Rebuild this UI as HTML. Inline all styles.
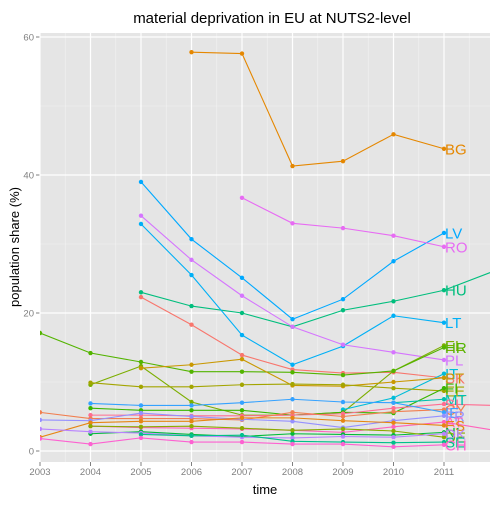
<!DOCTYPE html>
<html><head><meta charset="utf-8"><style>
body{margin:0;background:#fff;}
svg text{font-family:"Liberation Sans",sans-serif;}
</style></head><body>
<svg id="chart" width="504" height="504" xmlns="http://www.w3.org/2000/svg">
<defs><clipPath id="pc"><rect x="40" y="33" width="450" height="429"/></clipPath></defs>
<text x="272" y="23" font-size="15" text-anchor="middle">material deprivation in EU at NUTS2-level</text>
<text x="265" y="494" font-size="13" text-anchor="middle">time</text>
<text transform="translate(19,247) rotate(-90)" font-size="13" text-anchor="middle">population share (%)</text>
<g id="grid"></g><g id="series" clip-path="url(#pc)"></g><g id="labels"></g>
</svg>
<script>
const years=[2003,2004,2005,2006,2007,2008,2009,2010,2011,2012];
const yTicks=[0,20,40,60];
const xTicks=[2003,2004,2005,2006,2007,2008,2009,2010,2011];
const seriesNames=["BG","LV","RO","HU","LT","PL","SK","EL","HR","IT","PT","EE","FI","MT","SI","CY","IE","FR","AT","ES","NL","DE","DK","SE","CH"];
const seriesColors=["#E58700","#00A9FF","#E76BF3","#00BE7D","#00B0F6","#D575FE","#F8766D","#7CAE00","#53B400","#00BCD8","#C99800","#A3A500","#39B600","#00C0AF","#FF6C91","#F17E4F","#35A2FF","#9590FF","#FF62BC","#E68613","#00BA38","#8BAB00","#B983FF","#00C08B","#FD61D1"];
const vBG=[null,null,null,57.8,57.6,41.3,42.0,45.9,43.8,null];
const vLV=[null,null,39.0,30.7,25.1,19.1,22.0,27.5,31.6,null];
const vRO=[null,null,null,null,36.7,33.0,32.3,31.2,29.6,null];
const vHU=[null,null,23.0,21.0,20.0,18.0,20.4,21.7,23.3,26.1];
const vLT=[null,null,32.9,25.5,16.8,12.5,15.2,19.6,18.6,null];
const vPL=[null,null,34.1,27.7,22.5,18.0,15.4,14.3,13.2,null];
const vSK=[null,null,22.3,18.3,13.9,11.8,11.3,11.4,10.6,null];
const vEL=[null,9.6,12.3,7.1,5.2,5.2,5.6,11.6,15.3,null];
const vHR=[17.1,14.2,12.9,11.5,11.5,11.4,11.0,11.6,15.0,null];
const vIT=[null,null,null,null,null,null,6.0,7.7,11.2,null];
const vPT=[null,null,12.0,12.5,13.3,9.5,9.4,10.0,10.6,null];
const vEE=[null,9.9,9.3,9.3,9.6,9.7,9.6,9.1,8.7,null];
const vFI=[null,6.2,5.9,5.9,5.9,5.2,5.6,5.5,9.1,null];
const vMT=[null,null,null,null,null,null,null,7.0,7.5,null];
const vSI=[null,5.2,5.2,5.1,5.1,5.2,5.4,6.2,6.8,6.6];
const vCY=[5.6,4.7,4.7,4.7,4.5,5.6,5.0,5.7,6.0,null];
const vIE=[null,6.9,6.6,6.6,7.0,7.5,7.1,7.0,5.6,null];
const vFR=[4.5,4.4,5.5,5.0,4.6,4.3,3.4,4.4,5.1,null];
const vAT=[null,3.6,3.4,3.3,3.2,3.0,2.7,3.5,4.2,3.0];
const vES=[2.0,4.1,4.3,4.3,4.8,4.8,4.4,4.1,3.7,null];
const vNL=[null,2.5,2.8,2.4,2.1,2.5,2.4,2.3,2.7,null];
const vDE=[null,3.6,3.5,3.6,3.3,3.0,3.2,2.9,2.0,null];
const vDK=[3.2,2.8,2.6,2.2,2.0,1.9,2.1,2.0,2.5,null];
const vSE=[null,null,2.4,2.2,2.3,1.4,1.3,1.2,1.3,null];
const vCH=[1.8,1.0,1.9,1.3,1.3,1.0,1.0,0.6,0.9,null];
const allValues=[vBG,vLV,vRO,vHU,vLT,vPL,vSK,vEL,vHR,vIT,vPT,vEE,vFI,vMT,vSI,vCY,vIE,vFR,vAT,vES,vNL,vDE,vDK,vSE,vCH];

const L=40,R=490,T=33,B=462;
function xs(y){return 40+(y-2003)*50.5;}
function ys(v){return 451-v*6.9;}
const NS="http://www.w3.org/2000/svg";
function mk(t,a,p){const e=document.createElementNS(NS,t);for(const k in a)e.setAttribute(k,a[k]);p.appendChild(e);return e;}
const g=document.getElementById('grid');
const bg=mk('rect',{x:L,y:T,width:R-L,height:B-T,fill:'#E5E5E5'},g);


for(let v=10;v<=60;v+=20){mk('line',{x1:L,x2:R,y1:ys(v),y2:ys(v),stroke:'#F2F2F2','stroke-width':0.6},g);}
for(let y=2003.5;y<2012;y+=1){mk('line',{x1:xs(y),x2:xs(y),y1:T,y2:B,stroke:'#F2F2F2','stroke-width':0.6},g);}
yTicks.forEach(v=>{
 mk('line',{x1:L,x2:R,y1:ys(v),y2:ys(v),stroke:'#fff','stroke-width':1.2},g);
 mk('line',{x1:L-4,x2:L,y1:ys(v),y2:ys(v),stroke:'#7F7F7F'},g);
 const t=mk('text',{x:L-6,y:ys(v)+3.5,'font-size':9.5,fill:'#7F7F7F','text-anchor':'end'},g);
 t.textContent=v;
 
 
});
xTicks.forEach(y=>{
 mk('line',{x1:xs(y),x2:xs(y),y1:T,y2:B,stroke:'#fff','stroke-width':1.2},g);
 mk('line',{x1:xs(y),x2:xs(y),y1:B,y2:B+4,stroke:'#7F7F7F'},g);
 const t=mk('text',{x:xs(y),y:B+13,'font-size':9.5,fill:'#7F7F7F','text-anchor':'middle'},g);
 t.textContent=y;
 
 
});
const sg=document.getElementById('series'),lg=document.getElementById('labels');
allValues.forEach((vals,i)=>{
 const c=seriesColors[i];
 const grp=mk('g',{},sg);
 
 
 const pts=[];vals.forEach((v,j)=>{if(v!==null)pts.push([xs(years[j]),ys(v)]);});
 mk('polyline',{points:pts.map(p=>p.join(',')).join(' '),fill:'none',stroke:c,'stroke-width':1.1},grp);
 pts.forEach(p=>{mk('circle',{cx:p[0],cy:p[1],r:2.2,fill:c},grp);});
 const v11=vals[8];
 if(v11!==null){
  const t=mk('text',{x:xs(2011)+1,y:ys(v11)+5.5,'font-size':15,fill:c},lg);
  t.textContent=seriesNames[i];
  
  
 }
});
</script>
</body></html>
